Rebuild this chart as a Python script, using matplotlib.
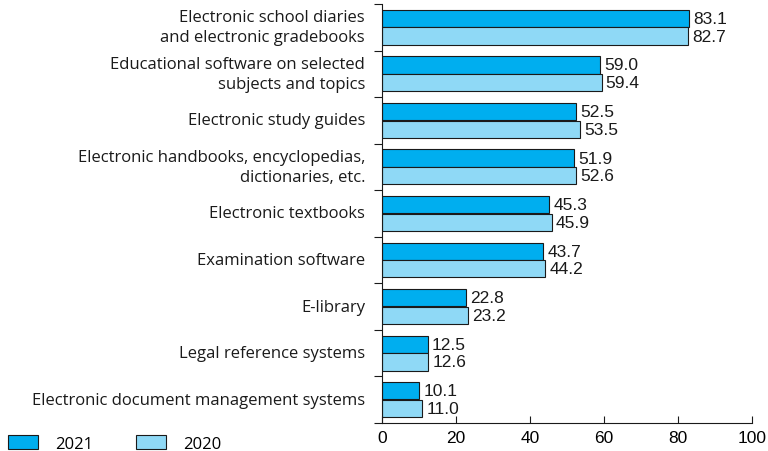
import numpy as np
import matplotlib
matplotlib.use('Agg')
from matplotlib import pyplot as plt
from matplotlib.patches import Patch

categories = ['Electronic school diaries\nand electronic gradebooks',
              'Educational software on selected\nsubjects and topics',
              'Electronic study guides',
              'Electronic handbooks, encyclopedias,\ndictionaries, etc.',
              'Electronic textbooks',
              'Examination software',
              'E-library',
              'Legal reference systems',
              'Electronic document management systems']
v2021 = [83.1, 59.0, 52.5, 51.9, 45.3, 43.7, 22.8, 12.5, 10.1]
v2020 = [82.7, 59.4, 53.5, 52.6, 45.9, 44.2, 23.2, 12.6, 11.0]
xticks = [0, 20, 40, 60, 80, 100]

c21 = '#00aeef'
c20 = '#8fd9f6'
num_font = 'Liberation Sans'
cat_font = 'Open Sans'

fig = plt.figure(figsize=(7.68, 4.52), dpi=100)
ax = fig.add_axes([0.497, 0.062, 0.482, 0.927])

y = np.arange(len(categories))
h = 0.37
ax.barh(y - 0.19, v2021, height=h, color=c21, edgecolor='#1a1a1a', linewidth=0.8)
ax.barh(y + 0.19, v2020, height=h, color=c20, edgecolor='#1a1a1a', linewidth=0.8)

for i in range(len(categories)):
    ax.text(v2021[i] + 1.1, y[i] - 0.19, f'{v2021[i]:.1f}', va='center', ha='left',
            fontsize=12.5, family=num_font, color='#1a1a1a')
    ax.text(v2020[i] + 1.1, y[i] + 0.19, f'{v2020[i]:.1f}', va='center', ha='left',
            fontsize=12.5, family=num_font, color='#1a1a1a')

ax.set_ylim(len(categories) - 0.5, -0.5)
ax.set_xlim(0, 100)
ax.set_xticks(xticks)
ax.set_xticklabels([str(t) for t in xticks], family=num_font, fontsize=12.5)
ax.tick_params(axis='x', direction='in', length=5, width=0.8, color='#1a1a1a', pad=5)

# category labels as text, ticks at group boundaries
ax.set_yticks(np.arange(len(categories) + 1) - 0.5)
ax.set_yticklabels([])
ax.tick_params(axis='y', direction='out', length=6, width=0.8, color='#1a1a1a')
for i, c in enumerate(categories):
    ax.text(-4.5, y[i], c, ha='right', va='center', fontsize=12, family=cat_font,
            color='#1a1a1a', linespacing=1.35)

for s in ['top', 'right']:
    ax.spines[s].set_visible(False)
for s in ['left', 'bottom']:
    ax.spines[s].set_linewidth(0.8)
    ax.spines[s].set_color('#1a1a1a')

handles = [Patch(facecolor=c21, edgecolor='#1a1a1a', linewidth=0.8, label='2021'),
           Patch(facecolor=c20, edgecolor='#1a1a1a', linewidth=0.8, label='2020')]
fig.legend(handles=handles, loc='lower left', bbox_to_anchor=(0.0, -0.02), ncol=2,
           frameon=False, handlelength=1.8, handleheight=0.95, handletextpad=1.0,
           columnspacing=2.6, borderpad=0.3, borderaxespad=0.2,
           prop={'family': cat_font, 'size': 12})

fig.savefig('out.png', dpi=100)
